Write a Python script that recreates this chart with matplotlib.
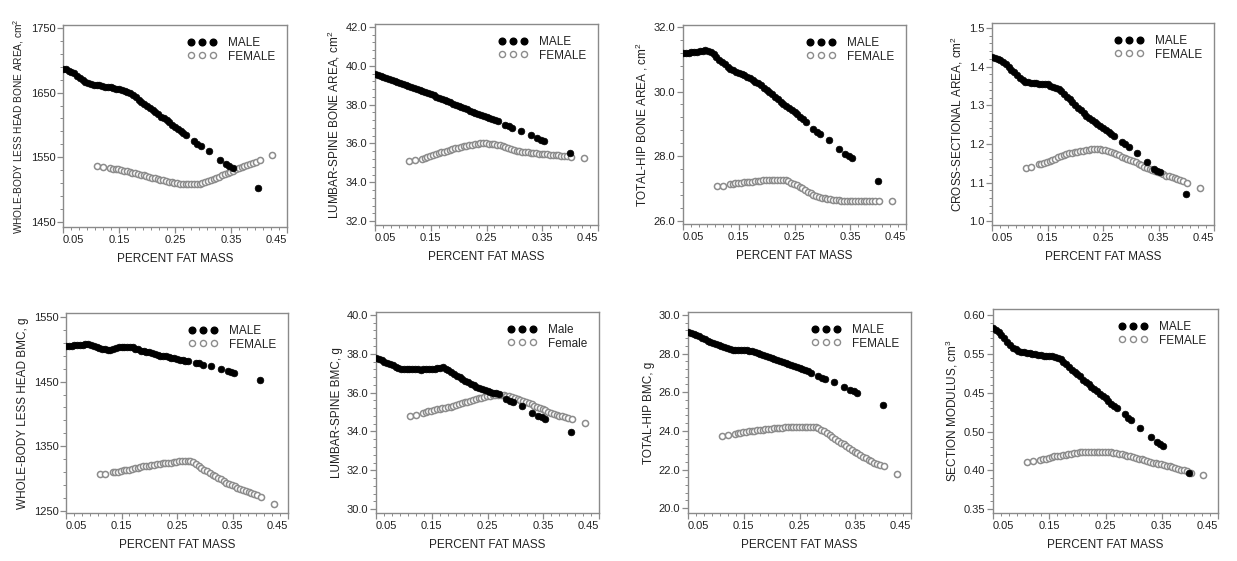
import matplotlib
matplotlib.use("Agg")
import matplotlib.pyplot as plt
from matplotlib.lines import Line2D
from matplotlib.ticker import AutoMinorLocator, FixedLocator

plt.rcParams['font.family'] = ['Liberation Sans', 'DejaVu Sans']
plt.rcParams['mathtext.default'] = 'regular'

# ---------------- data ----------------
PCT_FAT_MALE = [0.050, 0.055, 0.060, 0.065, 0.070, 0.075, 0.080, 0.085, 0.090, 0.095,
                0.100, 0.105, 0.110, 0.115, 0.120, 0.125, 0.130, 0.135, 0.140, 0.145,
                0.150, 0.155, 0.160, 0.165, 0.170, 0.175, 0.180, 0.185, 0.190, 0.195,
                0.200, 0.205, 0.210, 0.215, 0.220, 0.225, 0.230, 0.235, 0.240, 0.245,
                0.250, 0.255, 0.260, 0.265, 0.270,
                0.284, 0.290, 0.296, 0.311, 0.330, 0.341, 0.347, 0.353, 0.399]

PCT_FAT_FEMALE = [0.111, 0.121,
                  0.134, 0.139, 0.144, 0.149, 0.154, 0.159, 0.164, 0.169, 0.174, 0.179,
                  0.184, 0.189, 0.194, 0.199, 0.204, 0.209, 0.214, 0.219, 0.224, 0.229,
                  0.234, 0.239, 0.244, 0.249, 0.254, 0.259, 0.264, 0.269, 0.274, 0.279,
                  0.284, 0.289, 0.294, 0.299, 0.304, 0.309, 0.314, 0.319, 0.324, 0.329,
                  0.334, 0.339, 0.344, 0.349, 0.354, 0.359, 0.364, 0.369, 0.374, 0.379,
                  0.384, 0.389, 0.394,
                  0.402, 0.424]

WB_AREA_MALE = [1687, 1686, 1684, 1682, 1680, 1676, 1673, 1670, 1667, 1665,
                1663, 1662, 1661, 1661, 1660, 1659, 1659, 1658, 1657, 1656,
                1656, 1654, 1653, 1651, 1649, 1646, 1643, 1639, 1636, 1633,
                1630, 1626, 1623, 1620, 1617, 1613, 1610, 1607, 1604, 1600,
                1597, 1594, 1591, 1588, 1584,
                1575, 1571, 1567, 1559, 1546, 1540, 1536, 1533, 1502]
WB_AREA_FEMALE = [1536, 1535,
                  1533, 1532, 1531.5, 1531, 1530, 1529, 1528, 1527, 1526, 1525,
                  1524, 1523, 1522, 1521, 1520, 1518.5, 1517.5, 1516.5, 1515.5, 1514,
                  1513, 1512, 1511, 1510.5, 1510, 1509, 1508.5, 1508, 1508, 1508,
                  1508, 1508.5, 1509, 1510, 1511.5, 1513, 1514.5, 1516, 1518, 1520,
                  1522, 1524, 1525.5, 1527, 1529, 1531, 1533, 1534.5, 1536, 1537.5,
                  1539, 1541, 1543,
                  1545, 1554]

LS_AREA_MALE = [39.55, 39.50, 39.45, 39.40, 39.35, 39.30, 39.26, 39.22, 39.17, 39.12,
                39.07, 39.02, 38.97, 38.92, 38.87, 38.82, 38.77, 38.71, 38.65, 38.59,
                38.53, 38.47, 38.41, 38.35, 38.29, 38.23, 38.17, 38.11, 38.05, 37.99,
                37.93, 37.87, 37.81, 37.75, 37.69, 37.63, 37.57, 37.51, 37.45, 37.39,
                37.34, 37.29, 37.24, 37.19, 37.13,
                36.95, 36.88, 36.82, 36.63, 36.45, 36.28, 36.18, 36.10, 35.50]
LS_AREA_FEMALE = [35.12, 35.15,
                  35.22, 35.26, 35.30, 35.35, 35.40, 35.45, 35.50, 35.54, 35.58, 35.62,
                  35.66, 35.70, 35.74, 35.78, 35.82, 35.85, 35.88, 35.91, 35.93, 35.95,
                  35.97, 36.00, 36.00, 36.00, 35.99, 35.97, 35.96, 35.94, 35.92, 35.87,
                  35.81, 35.75, 35.69, 35.65, 35.62, 35.59, 35.57, 35.55, 35.54, 35.52,
                  35.51, 35.49, 35.48, 35.47, 35.45, 35.44, 35.42, 35.41, 35.40, 35.39,
                  35.37, 35.36, 35.34,
                  35.31, 35.25]

TH_AREA_MALE = [31.19, 31.20, 31.20, 31.21, 31.22, 31.23, 31.25, 31.27, 31.28, 31.27,
                31.23, 31.16, 31.07, 30.99, 30.92, 30.85, 30.77, 30.71, 30.66, 30.62,
                30.58, 30.54, 30.50, 30.46, 30.42, 30.37, 30.31, 30.25, 30.19, 30.12,
                30.06, 29.98, 29.91, 29.83, 29.76, 29.69, 29.62, 29.56, 29.49, 29.43,
                29.36, 29.29, 29.22, 29.15, 29.07,
                28.84, 28.76, 28.70, 28.50, 28.22, 28.08, 28.00, 27.95, 27.24]
TH_AREA_FEMALE = [27.08, 27.09,
                  27.14, 27.15, 27.16, 27.17, 27.18, 27.19, 27.19, 27.20, 27.21, 27.22,
                  27.23, 27.24, 27.25, 27.26, 27.26, 27.26, 27.26, 27.26, 27.26, 27.25,
                  27.25, 27.22, 27.18, 27.14, 27.10, 27.05, 27.00, 26.95, 26.90, 26.85,
                  26.81, 26.78, 26.75, 26.72, 26.70, 26.68, 26.66, 26.65, 26.64, 26.63,
                  26.62, 26.62, 26.61, 26.61, 26.61, 26.61, 26.61, 26.61, 26.61, 26.61,
                  26.61, 26.61, 26.61,
                  26.61, 26.62]

CSA_MALE = [1.425, 1.423, 1.420, 1.417, 1.413, 1.406, 1.399, 1.392, 1.385, 1.378,
            1.371, 1.365, 1.361, 1.359, 1.358, 1.357, 1.357, 1.356, 1.355, 1.355,
            1.354, 1.351, 1.348, 1.345, 1.341, 1.336, 1.329, 1.322, 1.315, 1.308,
            1.301, 1.294, 1.287, 1.280, 1.273, 1.267, 1.261, 1.256, 1.251, 1.246,
            1.241, 1.236, 1.231, 1.226, 1.221,
            1.205, 1.200, 1.193, 1.176, 1.152, 1.136, 1.131, 1.127, 1.070]
CSA_FEMALE = [1.137, 1.141,
              1.147, 1.149, 1.151, 1.153, 1.155, 1.158, 1.161, 1.165, 1.169, 1.172,
              1.174, 1.176, 1.177, 1.179, 1.180, 1.181, 1.182, 1.183, 1.185, 1.186,
              1.187, 1.187, 1.186, 1.185, 1.184, 1.182, 1.180, 1.177, 1.173, 1.170,
              1.167, 1.164, 1.161, 1.159, 1.156, 1.153, 1.149, 1.145, 1.141, 1.138,
              1.135, 1.133, 1.130, 1.127, 1.124, 1.121, 1.118, 1.116, 1.113, 1.111,
              1.109, 1.106, 1.104,
              1.099, 1.085]

WB_BMC_MALE = [1505, 1505, 1505, 1506, 1506, 1507, 1507, 1508, 1508, 1507,
               1505, 1503, 1502, 1501, 1500, 1499, 1499, 1500, 1502, 1503,
               1503, 1504, 1504, 1504, 1503, 1501, 1500, 1498, 1497, 1496,
               1495, 1494, 1492, 1491, 1490, 1490, 1489, 1488, 1487, 1486,
               1485, 1484, 1483, 1482, 1482,
               1479, 1478, 1476, 1474, 1469, 1466, 1465, 1463, 1453]
WB_BMC_FEMALE = [1307, 1308,
                 1310, 1311, 1311, 1312, 1313, 1313, 1314, 1315, 1316, 1317,
                 1318, 1319, 1319, 1320, 1321, 1321, 1322, 1323, 1324, 1324,
                 1325, 1325, 1326, 1326, 1327, 1328, 1328, 1328, 1328, 1326,
                 1323, 1320, 1317, 1314, 1312, 1309, 1306, 1304, 1301, 1299,
                 1297, 1294, 1292, 1290, 1288, 1286, 1284, 1283, 1281, 1279,
                 1278, 1276, 1275,
                 1272, 1261]

LS_BMC_MALE = [37.78, 37.72, 37.66, 37.59, 37.52, 37.46, 37.40, 37.33, 37.28, 37.24,
               37.22, 37.22, 37.21, 37.21, 37.20, 37.19, 37.18, 37.19, 37.20, 37.21,
               37.22, 37.24, 37.27, 37.29, 37.30, 37.23, 37.14, 37.05, 36.97, 36.88,
               36.79, 36.70, 36.61, 36.52, 36.44, 36.37, 36.30, 36.23, 36.17, 36.11,
               36.06, 36.02, 35.99, 35.96, 35.93,
               35.65, 35.56, 35.50, 35.30, 34.97, 34.80, 34.72, 34.66, 33.97]
LS_BMC_FEMALE = [34.78, 34.86,
                 34.97, 35.00, 35.03, 35.07, 35.10, 35.13, 35.16, 35.19, 35.22, 35.25,
                 35.28, 35.32, 35.36, 35.40, 35.45, 35.49, 35.53, 35.57, 35.62, 35.66,
                 35.70, 35.74, 35.78, 35.81, 35.84, 35.86, 35.88, 35.89, 35.90, 35.88,
                 35.85, 35.81, 35.77, 35.72, 35.67, 35.62, 35.57, 35.51, 35.45, 35.39,
                 35.33, 35.27, 35.21, 35.14, 35.08, 35.02, 34.96, 34.91, 34.86, 34.82,
                 34.78, 34.74, 34.70,
                 34.62, 34.42]

TH_BMC_MALE = [29.14, 29.08, 29.02, 28.96, 28.89, 28.82, 28.74, 28.67, 28.60, 28.53,
               28.48, 28.42, 28.37, 28.33, 28.28, 28.23, 28.20, 28.19, 28.19, 28.19,
               28.19, 28.18, 28.15, 28.12, 28.08, 28.03, 27.98, 27.93, 27.88, 27.83,
               27.78, 27.73, 27.68, 27.63, 27.57, 27.52, 27.46, 27.41, 27.36, 27.30,
               27.25, 27.20, 27.14, 27.08, 27.00,
               26.82, 26.74, 26.68, 26.55, 26.26, 26.12, 26.04, 25.98, 25.35]
TH_BMC_FEMALE = [23.72, 23.78,
                 23.86, 23.88, 23.91, 23.93, 23.96, 23.98, 24.00, 24.01, 24.03, 24.05,
                 24.06, 24.08, 24.10, 24.12, 24.13, 24.15, 24.16, 24.17, 24.18, 24.19,
                 24.19, 24.20, 24.21, 24.21, 24.22, 24.22, 24.22, 24.22, 24.22, 24.20,
                 24.14, 24.07, 23.99, 23.90, 23.79, 23.68, 23.57, 23.47, 23.38, 23.30,
                 23.21, 23.12, 23.02, 22.93, 22.84, 22.75, 22.66, 22.58, 22.50, 22.42,
                 22.35, 22.28, 22.22,
                 22.16, 21.78]

SM_MALE = [0.583, 0.581, 0.578, 0.574, 0.570, 0.566, 0.562, 0.558, 0.556, 0.554,
           0.553, 0.552, 0.551, 0.551, 0.550, 0.550, 0.549, 0.549, 0.548, 0.548,
           0.547, 0.547, 0.546, 0.545, 0.543, 0.540, 0.537, 0.533, 0.530, 0.527,
           0.524, 0.521, 0.517, 0.514, 0.511, 0.508, 0.505, 0.502, 0.499, 0.496,
           0.493, 0.490, 0.486, 0.483, 0.480,
           0.472, 0.468, 0.465, 0.455, 0.443, 0.437, 0.434, 0.431, 0.397]
SM_FEMALE = [0.411, 0.412,
             0.413, 0.414, 0.415, 0.416, 0.417, 0.418, 0.418, 0.419, 0.420, 0.420,
             0.421, 0.421, 0.422, 0.422, 0.423, 0.423, 0.423, 0.424, 0.424, 0.424,
             0.424, 0.424, 0.424, 0.424, 0.423, 0.423, 0.422, 0.422, 0.421, 0.421,
             0.420, 0.419, 0.418, 0.417, 0.416, 0.415, 0.414, 0.413, 0.412, 0.411,
             0.410, 0.409, 0.408, 0.408, 0.407, 0.406, 0.405, 0.404, 0.403, 0.402,
             0.401, 0.400, 0.399,
             0.397, 0.394]

Y_LABELS = ["WHOLE-BODY LESS HEAD BONE AREA, cm$^{2}$",
            "LUMBAR-SPINE BONE AREA, cm$^{2}$",
            "TOTAL-HIP BONE AREA , cm$^{2}$",
            "CROSS-SECTIONAL AREA, cm$^{2}$",
            "WHOLE-BODY LESS HEAD BMC, g",
            "LUMBAR-SPINE BMC, g",
            "TOTAL-HIP BMC, g",
            "SECTION MODULUS, cm$^{3}$"]
X_LABEL = "PERCENT FAT MASS"
X_TICKS = [0.05, 0.15, 0.25, 0.35, 0.45]
X_TICK_LABELS = ["0.05", "0.15", "0.25", "0.35", "0.45"]

Y_TICKS = [[1450, 1550, 1650, 1750],
           [32, 34, 36, 38, 40, 42],
           [26, 28, 30, 32],
           [1.0, 1.1, 1.2, 1.3, 1.4, 1.5],
           [1250, 1350, 1450, 1550],
           [30, 32, 34, 36, 38, 40],
           [20, 22, 24, 26, 28, 30],
           [0.35, 0.40, 0.45, 0.50, 0.55, 0.60]]
Y_TICK_LABELS = [["1450", "1550", "1650", "1750"],
                 ["32.0", "34.0", "36.0", "38.0", "40.0", "42.0"],
                 ["26.0", "28.0", "30.0", "32.0"],
                 ["1.0", "1.1", "1.2", "1.3", "1.4", "1.5"],
                 ["1250", "1350", "1450", "1550"],
                 ["30.0", "32.0", "34.0", "36.0", "38.0", "40.0"],
                 ["20.0", "22.0", "24.0", "26.0", "28.0", "30.0"],
                 ["0.35", "0.40", "0.50", "0.45", "0.55", "0.60"]]
LEGEND_LABELS = [["MALE", "FEMALE"]] * 5 + [["Male", "Female"]] + [["MALE", "FEMALE"]] * 2

MALE_SERIES = [WB_AREA_MALE, LS_AREA_MALE, TH_AREA_MALE, CSA_MALE,
               WB_BMC_MALE, LS_BMC_MALE, TH_BMC_MALE, SM_MALE]
FEMALE_SERIES = [WB_AREA_FEMALE, LS_AREA_FEMALE, TH_AREA_FEMALE, CSA_FEMALE,
                 WB_BMC_FEMALE, LS_BMC_FEMALE, TH_BMC_FEMALE, SM_FEMALE]

# ---------------- layout ----------------
W, H = 1237, 561
# (left, right, top, bottom) in pixels
BOXES = [(63, 287, 25, 227), (375, 598, 24, 225), (683, 906, 25, 224), (992, 1214, 23, 225),
         (66, 288, 313, 513), (376, 599, 312, 513), (688, 911, 312, 513), (993, 1218, 309, 513)]
YLIMS = [(1442, 1754.6), (31.8, 42.15), (25.9, 32.06), (0.99, 1.513),
         (1247, 1556), (29.8, 40.15), (19.75, 30.15), (0.345, 0.608)]
YLABEL_SIZE = [7.3, 8.5, 8.5, 8.5, 8.5, 8.5, 8.5, 8.5]

SPINE = '#8a8a8a'
TXT = '#222222'
FEM = '#8c8c8c'

fig = plt.figure(figsize=(W / 100, H / 100), dpi=100)

for i in range(8):
    l, r, t, b = BOXES[i]
    ax = fig.add_axes([l / W, 1 - b / H, (r - l) / W, (b - t) / H])
    ax.plot(PCT_FAT_FEMALE, FEMALE_SERIES[i], linestyle='none', marker='o', ms=4.4,
            mfc='white', mec=FEM, mew=1.1, zorder=2)
    ax.plot(PCT_FAT_MALE, MALE_SERIES[i], linestyle='none', marker='o', ms=4.8,
            mfc='black', mec='black', mew=0.5, zorder=3)
    ax.set_xlim(0.05, 0.45)
    ax.set_ylim(*YLIMS[i])
    ax.set_xticks(X_TICKS)
    xt = ax.set_xticklabels(X_TICK_LABELS)
    xt[0].set_ha('left')
    xt[-1].set_ha('right')
    ax.yaxis.set_major_locator(FixedLocator(Y_TICKS[i]))
    ax.set_yticklabels(Y_TICK_LABELS[i])
    ax.xaxis.set_minor_locator(AutoMinorLocator(7))
    ax.yaxis.set_minor_locator(AutoMinorLocator(5))
    ax.tick_params(which='major', direction='out', length=4, width=0.9, color=SPINE,
                   labelsize=8, labelcolor=TXT, pad=1.5)
    ax.tick_params(which='minor', direction='out', length=2.2, width=0.7, color=SPINE)
    for s in ax.spines.values():
        s.set_color(SPINE)
        s.set_linewidth(1.0)
    ax.set_xlabel(X_LABEL, fontsize=8.5, color=TXT, labelpad=6)
    ax.set_ylabel(Y_LABELS[i], fontsize=YLABEL_SIZE[i], color=TXT, labelpad=3)

    handles = [Line2D([], [], linestyle='none', marker='o', ms=4.8, mfc='black', mec='black'),
               Line2D([], [], linestyle='none', marker='o', ms=4.4, mfc='white', mec=FEM, mew=1.0)]
    leg = ax.legend(handles, LEGEND_LABELS[i], numpoints=3, frameon=False, loc='upper right',
                    fontsize=8.5, handlelength=2.4, handletextpad=1.0, labelspacing=0.15,
                    borderaxespad=0.6)
    for txt in leg.get_texts():
        txt.set_color(TXT)

fig.savefig('out.png', dpi=100, facecolor='white')
